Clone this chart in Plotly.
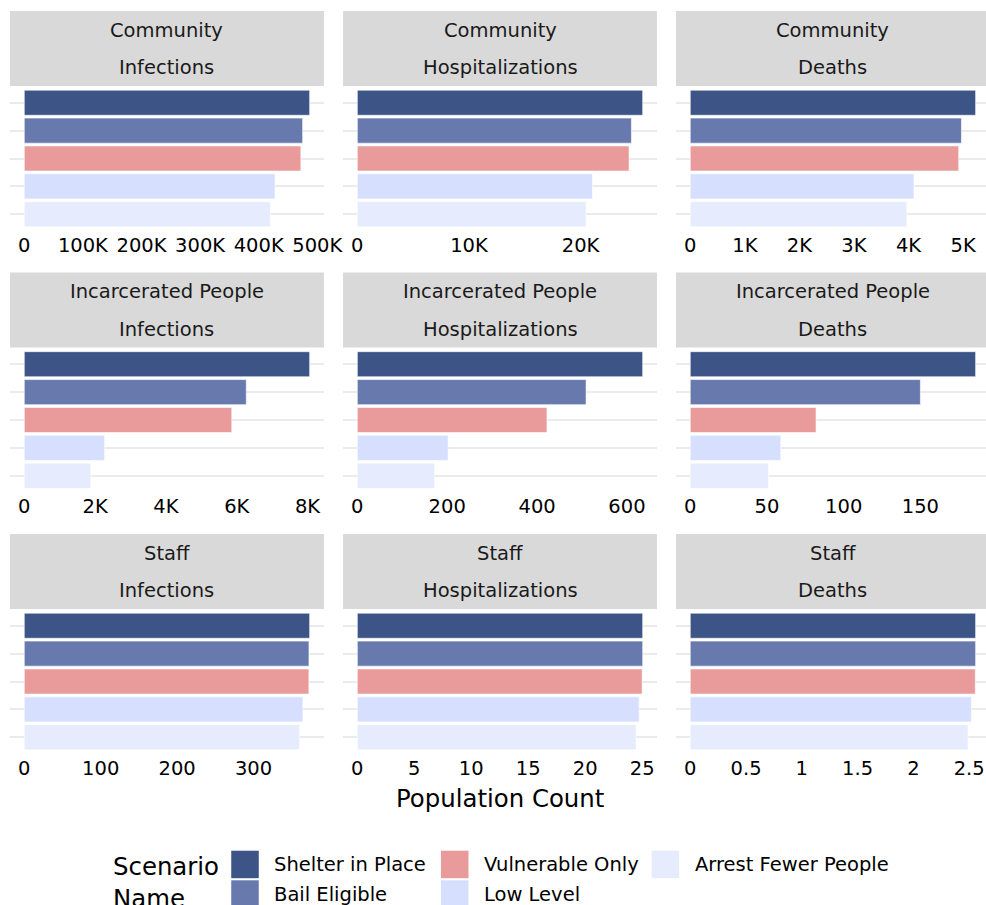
import plotly.graph_objects as go

# ---- data -------------------------------------------------------------
scenarios = ["Shelter in Place", "Bail Eligible", "Vulnerable Only",
             "Low Level", "Arrest Fewer People"]
scenario_colors = ["#3D5487", "#6879AD", "#E89B9A", "#D6DFFE", "#E6EBFE"]

populations = ["Community", "Incarcerated People", "Staff"]
outcomes = ["Infections", "Hospitalizations", "Deaths"]

community_infections = [487000, 475000, 472000, 428000, 420000]
community_hospitalizations = [25570, 24560, 24350, 21070, 20500]
community_deaths = [5230, 4970, 4920, 4100, 3970]

incarcerated_infections = [8060, 6270, 5860, 2270, 1880]
incarcerated_hospitalizations = [635, 509, 422, 202, 172]
incarcerated_deaths = [186, 150, 82, 59, 51]

staff_infections = [373.5, 372.6, 372.5, 364.7, 360.4]
staff_hospitalizations = [25.05, 25.05, 25.0, 24.74, 24.47]
staff_deaths = [2.558, 2.558, 2.555, 2.52, 2.49]

community_ticks = [[0, 100000, 200000, 300000, 400000, 500000],
                   [0, 10000, 20000],
                   [0, 1000, 2000, 3000, 4000, 5000]]
community_tick_text = [["0", "100K", "200K", "300K", "400K", "500K"],
                       ["0", "10K", "20K"],
                       ["0", "1K", "2K", "3K", "4K", "5K"]]
incarcerated_ticks = [[0, 2000, 4000, 6000, 8000],
                      [0, 200, 400, 600],
                      [0, 50, 100, 150]]
incarcerated_tick_text = [["0", "2K", "4K", "6K", "8K"],
                          ["0", "200", "400", "600"],
                          ["0", "50", "100", "150"]]
staff_ticks = [[0, 100, 200, 300],
               [0, 5, 10, 15, 20, 25],
               [0, 0.5, 1, 1.5, 2, 2.5]]
staff_tick_text = [["0", "100", "200", "300"],
                   ["0", "5", "10", "15", "20", "25"],
                   ["0", "0.5", "1", "1.5", "2", "2.5"]]

x_title = "Population Count"
legend_title = "Scenario<br>Name"

# panel grid assembled from the arrays above
panel_values = [
    [community_infections, community_hospitalizations, community_deaths],
    [incarcerated_infections, incarcerated_hospitalizations, incarcerated_deaths],
    [staff_infections, staff_hospitalizations, staff_deaths],
]
panel_ticks = [community_ticks, incarcerated_ticks, staff_ticks]
panel_tick_text = [community_tick_text, incarcerated_tick_text, staff_tick_text]

# ---- geometry (pixels) -----------------------------------------------
FIG_W, H = 1006, 905
W = 986
FONT = "DejaVu Sans"
BASE = 24.4
SMALL = 19.5

col_left = [10.0, 342.7, 675.3]
panel_w = 313.6
row_top = [86.0, 347.5, 609.0]
panel_h = 145.0
strip_h = 75.0


def px(x):
    return x / W


def py(y):
    return 1 - y / H


fig = go.Figure()
layout = dict(
    width=FIG_W, height=H, autosize=False,
    margin=dict(l=0, r=0, t=0, b=0),
    paper_bgcolor="white", plot_bgcolor="white",
    barmode="overlay", showlegend=False,
    font=dict(family=FONT, color="black", size=SMALL),
)
shapes = []
annotations = []

for r in range(3):
    for c in range(3):
        n = r * 3 + c + 1
        suffix = "" if n == 1 else str(n)
        vals = panel_values[r][c]
        vmax = max(vals)
        lo, hi = -0.05 * vmax, 1.05 * vmax
        left = col_left[c]
        right = left + panel_w
        if right > W:
            hi = lo + (hi - lo) * (W - left) / panel_w
            right = W
        top = row_top[r]
        bottom = top + panel_h

        for j, name in enumerate(scenarios):
            fig.add_trace(go.Bar(
                x=[vals[j]], y=[name], orientation="h",
                width=0.9,
                marker=dict(color=scenario_colors[j],
                            line=dict(color="white", width=0.6)),
                name=name, showlegend=False,
                xaxis="x" + suffix, yaxis="y" + suffix,
                hovertemplate="%{y}: %{x}<extra></extra>",
            ))

        layout["xaxis" + suffix] = dict(
            domain=[px(left), px(right)],
            anchor="y" + suffix,
            range=[lo, hi],
            showgrid=False, zeroline=False, showline=False,
            tickvals=panel_ticks[r][c], ticktext=panel_tick_text[r][c],
            ticks="",
            tickfont=dict(family=FONT, size=SMALL, color="black"),
            fixedrange=True,
        )
        layout["yaxis" + suffix] = dict(
            domain=[py(bottom), py(top)],
            anchor="x" + suffix,
            type="category",
            categoryorder="array", categoryarray=scenarios,
            range=[4.6, -0.6],
            showticklabels=False, ticks="",
            showgrid=True, gridcolor="#EBEBEB", gridwidth=2,
            zeroline=False, showline=False,
            fixedrange=True,
        )

        # facet strip: population over outcome
        s_top = top - strip_h
        shapes.append(dict(
            type="rect", xref="paper", yref="paper",
            x0=px(left), x1=px(right), y0=py(top), y1=py(s_top),
            fillcolor="#D9D9D9", line=dict(width=0), layer="below",
        ))
        strip_cx = px((col_left[c] + col_left[c] + panel_w) / 2)
        for k, label in enumerate([populations[r], outcomes[c]]):
            annotations.append(dict(
                text=label, xref="paper", yref="paper",
                x=strip_cx, y=py(s_top + strip_h * (0.25 + 0.5 * k) + 0.5),
                xanchor="center", yanchor="middle", showarrow=False,
                font=dict(family=FONT, size=SMALL, color="#1A1A1A"),
            ))

# shared x-axis title
annotations.append(dict(
    text=x_title, xref="paper", yref="paper",
    x=px((col_left[0] + col_left[2] + panel_w) / 2), y=py(798),
    xanchor="center", yanchor="middle", showarrow=False,
    font=dict(family=FONT, size=BASE, color="black"),
))

# legend drawn as key squares with labels, filled column by column
key = 27.5
key_pitch = 29.6
key_cols = [231.0, 440.5, 651.0]
key_top = 850.7
legend_slots = [(0, 0), (0, 1), (1, 0), (1, 1), (2, 0)]
for j, name in enumerate(scenarios):
    col, row = legend_slots[j]
    kx = key_cols[col]
    ky = key_top + row * key_pitch
    shapes.append(dict(
        type="rect", xref="paper", yref="paper",
        x0=px(kx), x1=px(kx + key), y0=py(ky + key), y1=py(ky),
        fillcolor=scenario_colors[j], line=dict(width=0),
    ))
    annotations.append(dict(
        text=name, xref="paper", yref="paper",
        x=px(kx + key + 13.5), y=py(ky + key / 2),
        xanchor="left", yanchor="middle", showarrow=False,
        font=dict(family=FONT, size=SMALL, color="black"),
    ))

annotations.append(dict(
    text=legend_title, xref="paper", yref="paper",
    x=px(111), y=py(882), align="left",
    xanchor="left", yanchor="middle", showarrow=False,
    font=dict(family=FONT, size=BASE, color="black"),
))

layout["shapes"] = shapes
layout["annotations"] = annotations
fig.update_layout(**layout)

fig.write_html("out.html", config={"responsive": False})
